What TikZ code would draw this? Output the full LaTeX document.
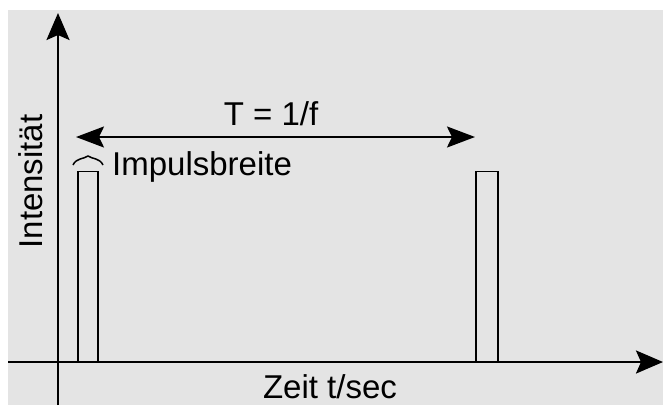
\documentclass[tikz,border=0pt]{standalone}
\usepackage{fontspec}
\setmainfont{Liberation Sans}
\usetikzlibrary{arrows.meta}
\definecolor{panelgray}{RGB}{228,228,228}
\begin{document}
\begin{tikzpicture}[x=1pt,y=-1pt]
\tikzstyle{every node}=[font=\fontsize{33}{40}\selectfont, inner sep=0pt]
\tikzstyle{axis}=[line width=2.5pt, -{Stealth[length=27pt,width=23pt,inset=5pt]}]
\tikzstyle{period}=[line width=2pt, {Stealth[length=28pt,width=21pt,inset=5pt]}-{Stealth[length=28pt,width=21pt,inset=5pt]}]
\tikzstyle{pulse}=[draw, line width=1.5pt, minimum width=20pt, minimum height=190pt, anchor=south west]

\useasboundingbox (0,0) rectangle (663,405);

% Draw the grey background
\fill[panelgray] (8,10) rectangle (663,405);

% Draw the axes
\coordinate (xstart) at (8,362);
\coordinate (xend) at (663,362);
\coordinate (ystart) at (58,405);
\coordinate (yend) at (58,13);
\draw[axis] (xstart) -- (xend);
\draw[axis] (ystart) -- (yend);

% Draw the two pulses
\node[pulse] (pulseA) at (77,362) {};
\node[pulse, minimum width=22pt] (pulseB) at (475,362) {};

% Draw the period arrow between the pulses
\coordinate (tA) at (76,137);
\coordinate (tB) at (475,137);
\draw[period] (tA) -- (tB);
\node[anchor=base] (period) at (271,125) {T = 1/f};

% Draw the small brace over the first pulse
\draw[line width=1.5pt] (73,165) .. controls (76,158) and (84,159) .. (88,156)
  .. controls (92,159) and (100,158) .. (103,165);
\node[anchor=base west] (width) at (112,175) {Impulsbreite};

% Draw the axis labels
\node[anchor=base] (xlabel) at (330,398) {Zeit t/sec};
\node[anchor=base, rotate=90] (ylabel) at (42,181.5) {Intensität};

\end{tikzpicture}
\end{document}
